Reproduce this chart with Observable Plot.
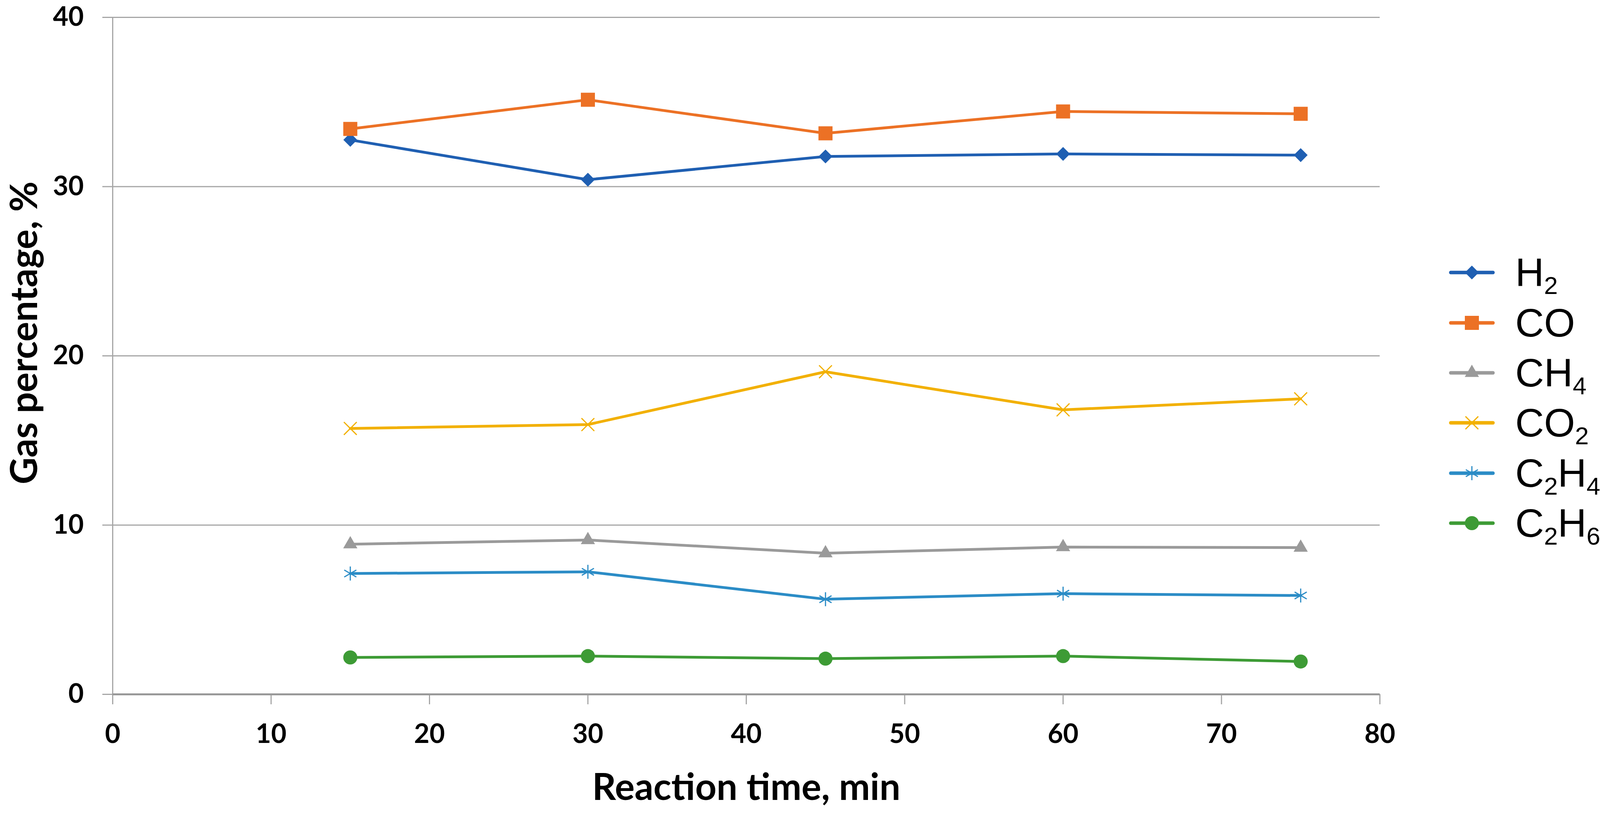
<!DOCTYPE html>
<html><head><meta charset="utf-8">
<script src="https://cdn.jsdelivr.net/npm/d3@7"></script>
<script src="https://cdn.jsdelivr.net/npm/@observablehq/plot@0.6"></script>
<style>
html,body{margin:0;padding:0;background:#fff;overflow:hidden;width:4114px;height:2085px;}
#wrap{position:relative;width:4114px;height:2085px;overflow:hidden;}
#wrap > svg{display:block;max-width:none !important;width:4114px;height:2085px;}
#legend{position:absolute;left:3709px;top:634px;font-family:"Liberation Sans",Arial,sans-serif;font-size:102px;color:#000;}
.row{display:flex;align-items:center;height:128.4px;}
.row svg{flex:none;display:block;}
.lbl{margin-left:52px;line-height:1;white-space:nowrap;}
.lbl sub{font-size:0.62em;vertical-align:-0.32em;line-height:0;}
</style></head>
<body><div id="wrap"></div>
<script>
// ---- data ----
const times = [15, 30, 45, 60, 75];
const gases = ["H2", "CO", "CH4", "CO2", "C2H4", "C2H6"];
const gasLabels = ["H<sub>2</sub>", "CO", "CH<sub>4</sub>", "CO<sub>2</sub>", "C<sub>2</sub>H<sub>4</sub>", "C<sub>2</sub>H<sub>6</sub>"];
const h2   = [32.76, 30.41, 31.78, 31.93, 31.86];
const co   = [33.41, 35.13, 33.15, 34.44, 34.30];
const ch4  = [8.87, 9.12, 8.34, 8.70, 8.67];
const co2  = [15.71, 15.94, 19.06, 16.81, 17.46];
const c2h4 = [7.14, 7.24, 5.62, 5.95, 5.84];
const c2h6 = [2.18, 2.26, 2.11, 2.26, 1.94];
const xTicks = [0, 10, 20, 30, 40, 50, 60, 70, 80];
const yTicks = [0, 10, 20, 30, 40];
const xTitle = "Reaction time, min";
const yTitle = "Gas percentage, %";

// ---- styles ----
const colors  = ["#1f5fb2", "#ec7125", "#9a9a9a", "#f2b000", "#2b8cc6", "#3d9b35"];
const symbols = ["diamond2", "square", "triangle", "times", "asterisk", "circle"];
const filled  = [true, true, true, false, false, true];
const radii   = [16, 20.3, 13.5, 15, 17, 18];

const series = [h2, co, ch4, co2, c2h4, c2h6];
const rows = [];
gases.forEach((g, i) => series[i].forEach((v, j) => rows.push({gas: g, time: times[j], value: v})));

const grid = "#a6a6a6";
const marks = [
  Plot.gridY(yTicks, {stroke: grid, strokeOpacity: 1, strokeWidth: 3}),
  Plot.ruleX([0], {stroke: grid, strokeWidth: 3}),
  Plot.axisY(yTicks, {tickSize: 26, tickPadding: 48, stroke: grid, strokeWidth: 3, fill: "#000",
    fontSize: 68, fontWeight: "bold", label: null}),
  Plot.axisX(xTicks, {tickSize: 26, tickPadding: 50, stroke: grid, strokeWidth: 3, fill: "#000",
    fontSize: 68, fontWeight: "bold", label: null}),
  Plot.ruleY([0], {stroke: "#999", strokeWidth: 5}),
  Plot.line(rows, {x: "time", y: "value", z: "gas", stroke: "gas", strokeWidth: 7, strokeLinejoin: "round"})
];
gases.forEach((g, i) => {
  const d = rows.filter(r => r.gas === g);
  marks.push(Plot.dot(d, filled[i]
    ? {x: "time", y: "value", symbol: "gas", fill: "gas", stroke: "none", r: radii[i]}
    : {x: "time", y: "value", symbol: "gas", stroke: "gas", fill: "none", strokeWidth: 3, r: radii[i]}));
});
marks.push(
  Plot.text([yTitle], {text: d => d, frameAnchor: "left", textAnchor: "middle", lineAnchor: "middle",
    dx: -224, dy: -59, rotate: -90, fontSize: 95, fontWeight: "bold", fill: "#000"}),
  Plot.text([xTitle], {text: d => d, frameAnchor: "bottom", lineAnchor: "bottom", dy: 270,
    fontSize: 95, fontWeight: "bold", fill: "#000"})
);

const chart = Plot.plot({
  width: 4114, height: 2085,
  marginLeft: 288, marginRight: 582, marginTop: 44, marginBottom: 307,
  style: {fontFamily: "Lato, 'Open Sans', sans-serif", background: "#fff", overflow: "visible"},
  x: {domain: [0, 80], axis: null},
  y: {domain: [0, 40], axis: null},
  color: {domain: gases, range: colors},
  symbol: {domain: gases, range: symbols},
  marks
});
const wrap = document.getElementById("wrap");
wrap.appendChild(chart);

// ---- legend ----
const legend = document.createElement("div");
legend.id = "legend";
const symMap = {diamond2: d3.symbolDiamond2, square: d3.symbolSquare, triangle: d3.symbolTriangle,
  times: d3.symbolTimes, asterisk: d3.symbolAsterisk, circle: d3.symbolCircle};
gases.forEach((g, i) => {
  const row = document.createElement("div");
  row.className = "row";
  const w = 118, h = 60;
  const svg = d3.create("svg").attr("width", w).attr("height", h);
  svg.append("line").attr("x1", 5).attr("x2", w - 5).attr("y1", h / 2).attr("y2", h / 2)
    .attr("stroke", colors[i]).attr("stroke-width", 9).attr("stroke-linecap", "round");
  const size = Math.PI * radii[i] * radii[i];
  const p = svg.append("path").attr("d", d3.symbol(symMap[symbols[i]], size)())
    .attr("transform", `translate(${w / 2},${h / 2})`);
  if (filled[i]) p.attr("fill", colors[i]);
  else p.attr("fill", "none").attr("stroke", colors[i]).attr("stroke-width", 3);
  row.appendChild(svg.node());
  const lbl = document.createElement("div");
  lbl.className = "lbl";
  lbl.innerHTML = gasLabels[i];
  row.appendChild(lbl);
  legend.appendChild(row);
});
wrap.appendChild(legend);
</script>
</body></html>
